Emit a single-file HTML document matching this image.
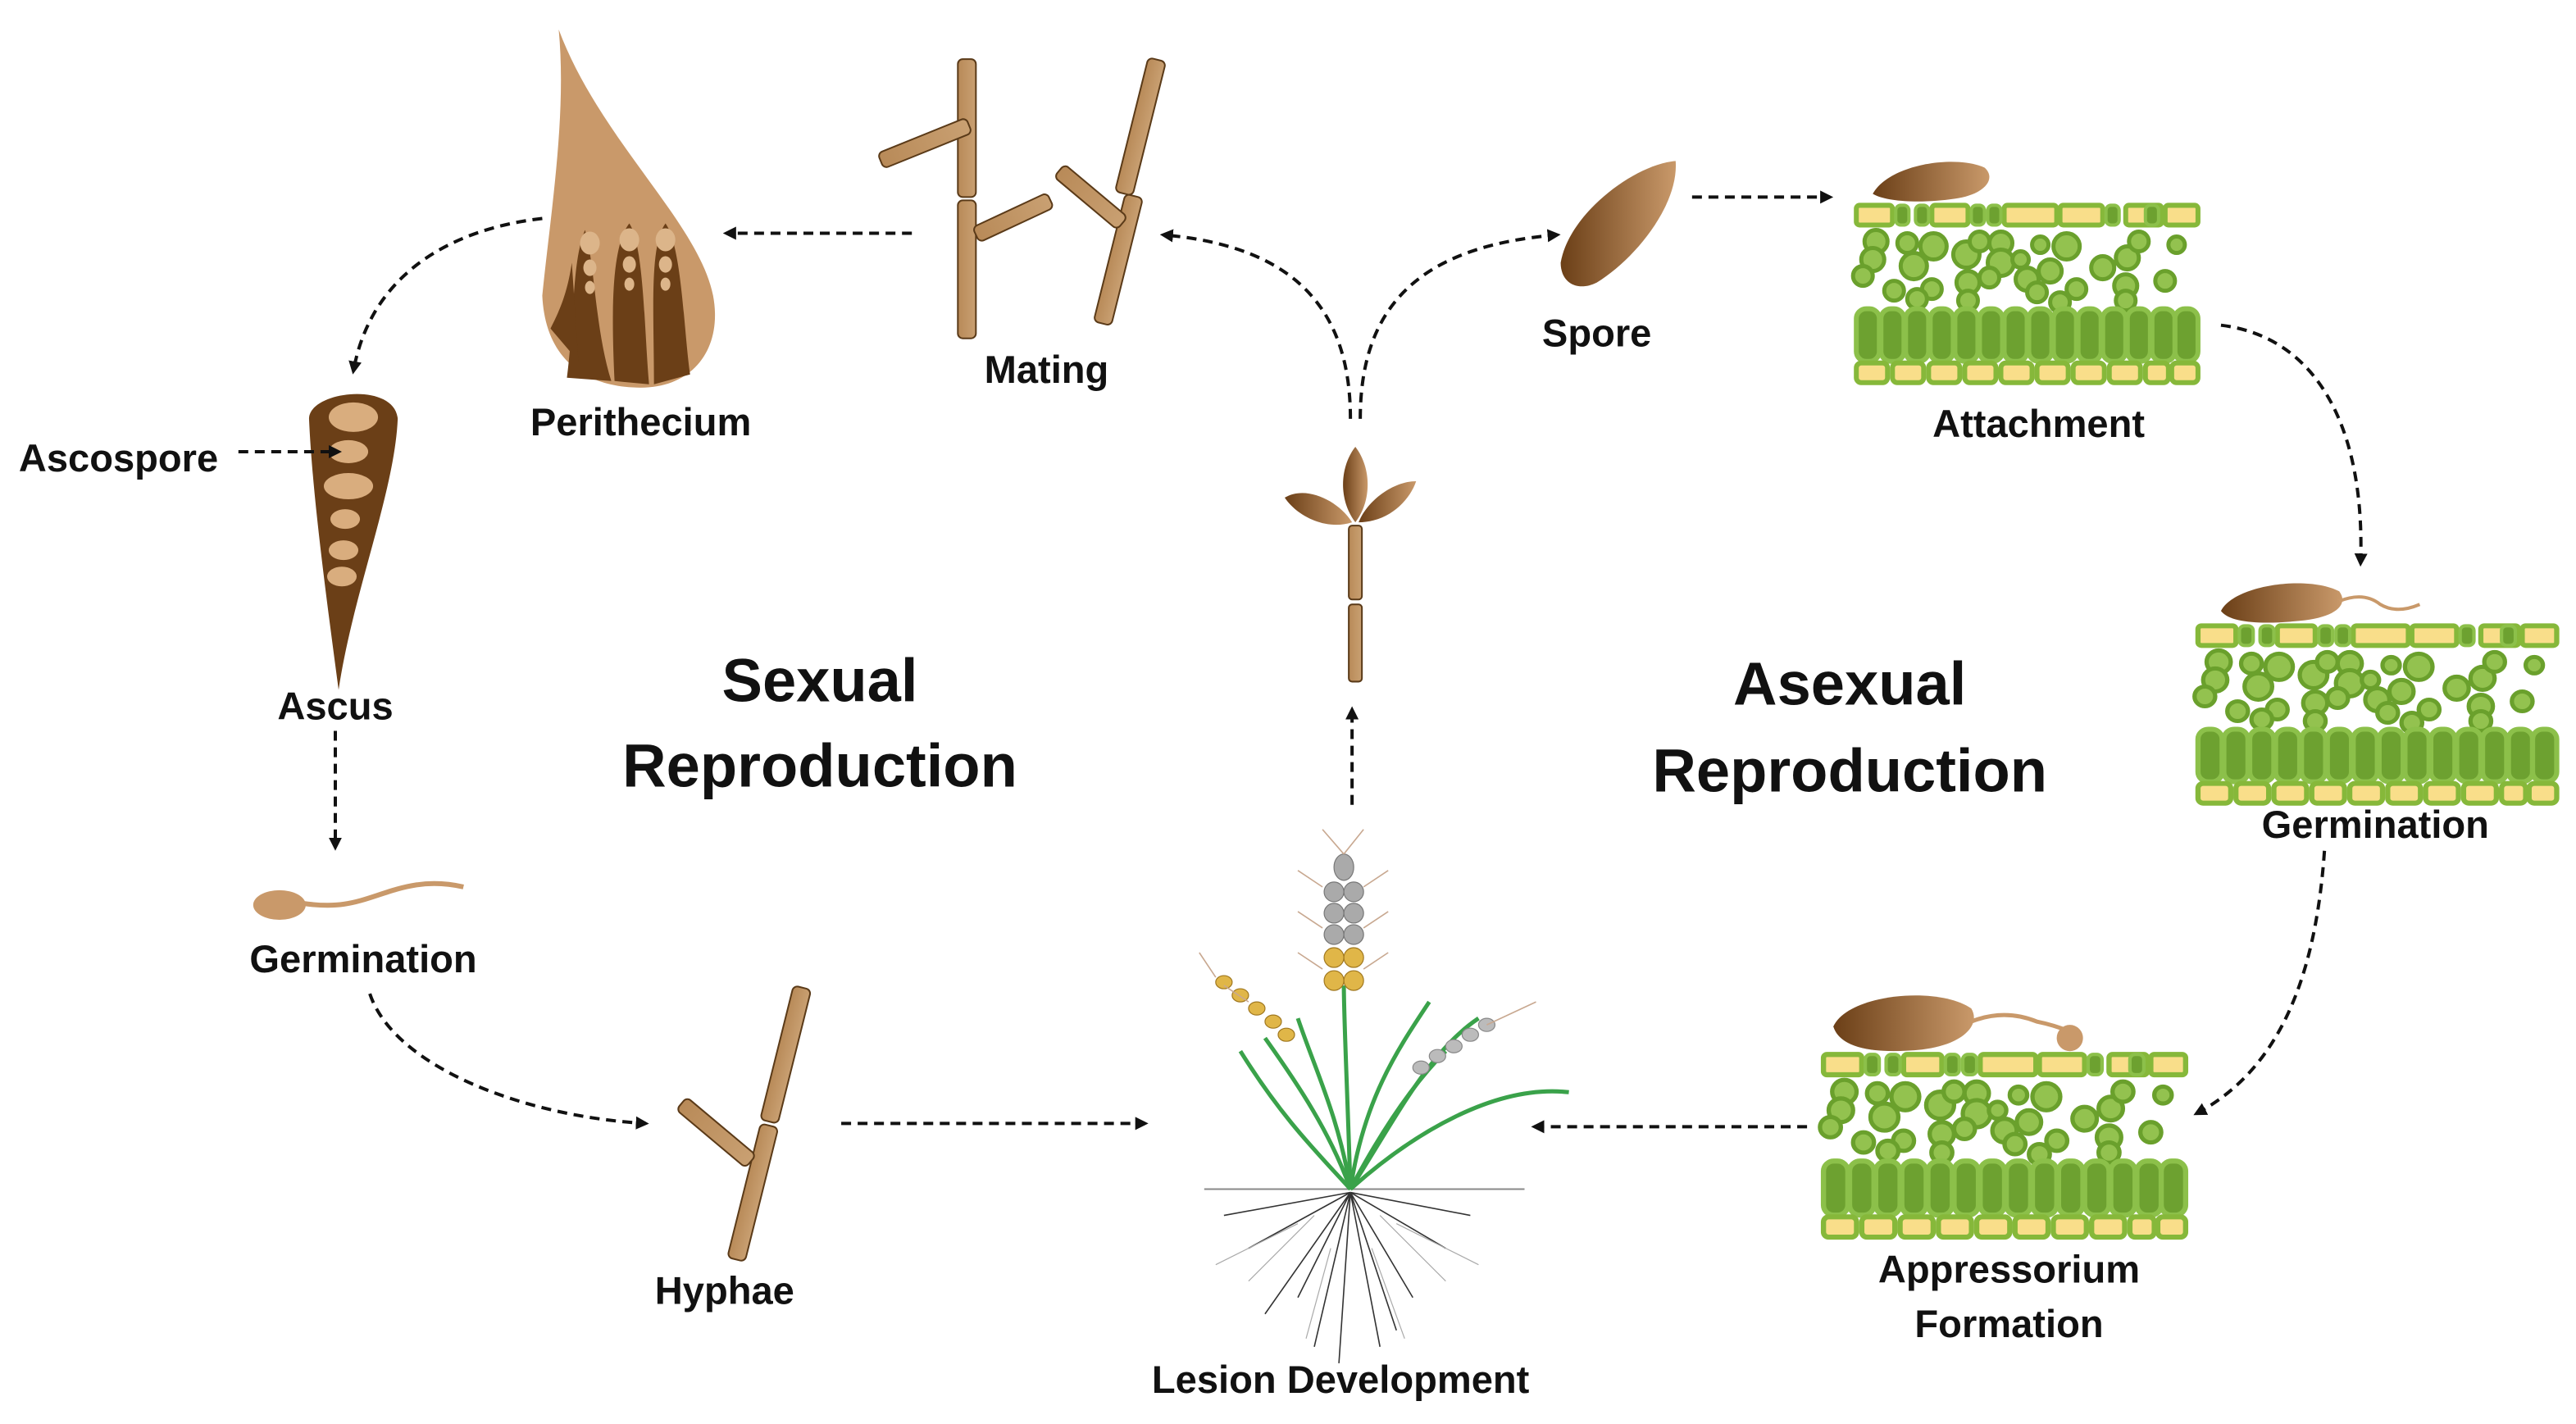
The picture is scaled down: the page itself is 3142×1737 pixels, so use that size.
<!DOCTYPE html>
<html><head><meta charset="utf-8"><style>
html,body{margin:0;padding:0;background:#fff}
svg{display:block}
text{font-family:"Liberation Sans",sans-serif;font-weight:bold;fill:#111}
</style></head><body>
<svg width="3142" height="1737" viewBox="0 0 1568 867" xmlns="http://www.w3.org/2000/svg">
<defs>
<linearGradient id="br" x1="0" x2="1" y1="0" y2="0"><stop offset="0" stop-color="#6b3f17"/><stop offset="1" stop-color="#c9996a"/></linearGradient>
<linearGradient id="rod" x1="0" x2="1"><stop offset="0" stop-color="#b88a58"/><stop offset="1" stop-color="#c9a072"/></linearGradient>
<marker id="ah" markerWidth="8" markerHeight="8" refX="6" refY="4" orient="auto" markerUnits="userSpaceOnUse"><path d="M0,0 L8,4 L0,8 Z" fill="#111"/></marker>
<g id="tissue">
 <g fill="#f9de8a" stroke="#86b83a" stroke-width="3">
  <rect x="0" y="0" width="22" height="12" rx="2"/><rect x="46" y="0" width="22" height="12" rx="2"/><rect x="90" y="0" width="32" height="12" rx="2"/><rect x="124" y="0" width="26" height="12" rx="2"/><rect x="164" y="0" width="22" height="12" rx="2"/><rect x="188" y="0" width="20" height="12" rx="2"/>
 </g>
 <g fill="#6da130" stroke="#8cc04a" stroke-width="2">
  <rect x="24" y="0" width="8" height="12" rx="3"/><rect x="36" y="0" width="8" height="12" rx="3"/><rect x="70" y="0" width="8" height="12" rx="3"/><rect x="80" y="0" width="8" height="12" rx="3"/><rect x="152" y="0" width="8" height="12" rx="3"/><rect x="176" y="0" width="8" height="12" rx="3"/>
 </g>
 <g fill="#93c24f" stroke="#6aa02c" stroke-width="2.5">
  <circle cx="12" cy="22" r="7"/><circle cx="10" cy="33" r="7"/><circle cx="4" cy="43" r="6"/><circle cx="35" cy="37" r="8"/><circle cx="31" cy="23" r="6"/><circle cx="47" cy="25" r="8"/><circle cx="23" cy="52" r="6"/><circle cx="46" cy="51" r="6"/><circle cx="37" cy="57" r="6"/>
  <circle cx="67" cy="30" r="8"/><circle cx="75" cy="22" r="6"/><circle cx="88" cy="23" r="7"/><circle cx="88" cy="35" r="8"/><circle cx="81" cy="44" r="6"/><circle cx="104" cy="45" r="7"/><circle cx="68" cy="47" r="7"/><circle cx="68" cy="58" r="6"/><circle cx="100" cy="33" r="5"/>
  <circle cx="112" cy="24" r="5"/><circle cx="128" cy="25" r="8"/><circle cx="118" cy="40" r="7"/><circle cx="110" cy="53" r="6"/><circle cx="134" cy="51" r="6"/><circle cx="124" cy="59" r="6"/><circle cx="150" cy="38" r="7"/>
  <circle cx="165" cy="32" r="7"/><circle cx="172" cy="22" r="6"/><circle cx="164" cy="49" r="7"/><circle cx="164" cy="58" r="6"/><circle cx="188" cy="46" r="6"/><circle cx="195" cy="24" r="5"/>
 </g>
 <g fill="#6da130" stroke="#8cc04a" stroke-width="3">
  <rect x="0" y="63" width="14" height="32" rx="6"/><rect x="15" y="63" width="14" height="32" rx="6"/><rect x="30" y="63" width="14" height="32" rx="6"/><rect x="45" y="63" width="14" height="32" rx="6"/><rect x="60" y="63" width="14" height="32" rx="6"/><rect x="75" y="63" width="14" height="32" rx="6"/><rect x="90" y="63" width="14" height="32" rx="6"/><rect x="105" y="63" width="14" height="32" rx="6"/><rect x="120" y="63" width="14" height="32" rx="6"/><rect x="135" y="63" width="14" height="32" rx="6"/><rect x="150" y="63" width="14" height="32" rx="6"/><rect x="165" y="63" width="14" height="32" rx="6"/><rect x="180" y="63" width="14" height="32" rx="6"/><rect x="194" y="63" width="14" height="32" rx="6"/>
 </g>
 <g fill="#f9de8a" stroke="#86b83a" stroke-width="3">
  <rect x="0" y="96" width="19" height="12" rx="3"/><rect x="22" y="96" width="19" height="12" rx="3"/><rect x="44" y="96" width="19" height="12" rx="3"/><rect x="66" y="96" width="19" height="12" rx="3"/><rect x="88" y="96" width="19" height="12" rx="3"/><rect x="110" y="96" width="19" height="12" rx="3"/><rect x="132" y="96" width="19" height="12" rx="3"/><rect x="154" y="96" width="19" height="12" rx="3"/><rect x="176" y="96" width="14" height="12" rx="3"/><rect x="192" y="96" width="16" height="12" rx="3"/>
 </g>
</g>
</defs>

<use href="#tissue" transform="translate(1130,125)"/>
<use href="#tissue" transform="translate(1338,381) scale(1.05,1)"/>
<use href="#tissue" transform="translate(1110,642) scale(1.06,1.03)"/>

<path d="M1140,118 C1150,100 1190,94 1208,102 C1215,108 1210,118 1190,121 C1170,124 1148,123 1140,118Z" fill="url(#br)"/>
<path d="M1352,372 C1360,356 1405,350 1424,360 C1430,368 1422,376 1400,378 C1380,380 1358,380 1352,372Z" fill="url(#br)"/>
<path d="M1424,366 q15,-6 25,2 q10,6 24,0" fill="none" stroke="#c9996a" stroke-width="2"/>
<path d="M1116,625 C1125,605 1180,600 1200,614 C1206,624 1195,636 1170,639 C1140,642 1120,638 1116,625Z" fill="url(#br)"/>
<path d="M1200,622 q20,-8 40,0 q10,2 20,6" fill="none" stroke="#c9996a" stroke-width="2.5"/>
<circle cx="1260" cy="632" r="8" fill="#c9996a"/>

<path d="M1020,98 C995,100 955,130 950,160 C950,172 960,178 972,172 C995,158 1022,125 1020,98Z" fill="url(#br)"/>

<path d="M340,18 C345,70 335,130 330,180 C332,222 360,236 390,236 C422,236 440,212 434,180 C425,135 365,85 340,18Z" fill="#c9996a"/>
<g fill="#6b3f17">
<path d="M345,230 C350,190 348,160 356,140 C362,160 362,200 372,232Z"/>
<path d="M374,232 C372,190 372,150 383,136 C392,150 392,200 395,234Z"/>
<path d="M398,234 C398,190 395,150 405,136 C415,150 416,200 420,228Z"/>
<path d="M335,200 C340,190 345,180 348,160 L352,220Z"/>
</g>
<g fill="#dcb58a"><ellipse cx="359" cy="148" rx="6" ry="7"/><ellipse cx="383" cy="146" rx="6" ry="7"/><ellipse cx="405" cy="146" rx="6" ry="7"/>
<ellipse cx="359" cy="163" rx="4" ry="5"/><ellipse cx="383" cy="161" rx="4" ry="5"/><ellipse cx="405" cy="161" rx="4" ry="5"/>
<ellipse cx="359" cy="175" rx="3" ry="4"/><ellipse cx="383" cy="173" rx="3" ry="4"/><ellipse cx="405" cy="173" rx="3" ry="4"/></g>

<path d="M188,255 C188,238 240,232 242,255 C240,300 215,360 206,420 C198,360 190,300 188,255Z" fill="#6b3f17"/>
<g fill="#d9ad7e"><ellipse cx="215" cy="254" rx="15" ry="9"/><ellipse cx="212" cy="275" rx="12" ry="7"/><ellipse cx="212" cy="296" rx="15" ry="8"/><ellipse cx="210" cy="316" rx="9" ry="6"/><ellipse cx="209" cy="335" rx="9" ry="6"/><ellipse cx="208" cy="351" rx="9" ry="6"/></g>

<g stroke="#5a3a18" stroke-width="1" fill="url(#rod)">
<rect x="583" y="36" width="11" height="84" rx="3"/><rect x="583" y="122" width="11" height="84" rx="3"/>
<rect x="536" y="93" width="58" height="10" rx="3" transform="rotate(-22 536 98)"/>
<rect x="594" y="138" width="50" height="10" rx="3" transform="rotate(-25 594 143)"/>
<rect x="699" y="35" width="11" height="84" rx="3" transform="rotate(14 699 35)"/>
<rect x="685" y="118" width="11" height="80" rx="3" transform="rotate(14 685 118)"/>
<rect x="648" y="100" width="50" height="10" rx="3" transform="rotate(40 648 100)"/>
<rect x="483" y="600" width="11" height="84" rx="3" transform="rotate(14 483 600)"/>
<rect x="463" y="684" width="11" height="84" rx="3" transform="rotate(14 463 684)"/>
<rect x="418" y="668" width="55" height="10" rx="3" transform="rotate(40 418 668)"/>
<rect x="821" y="320" width="8" height="45" rx="2"/><rect x="821" y="368" width="8" height="47" rx="2"/>
</g>
<path d="M825,272 C815,285 815,305 825,318 C835,305 835,285 825,272Z" fill="url(#br)"/>
<path d="M782,303 C795,295 815,305 823,318 C808,323 790,315 782,303Z" fill="url(#br)"/>
<path d="M862,293 C848,293 832,305 827,318 C845,318 858,305 862,293Z" fill="url(#br)"/>

<ellipse cx="170" cy="551" rx="16" ry="9" fill="#c9996a"/>
<path d="M184,550 C205,553 215,550 230,545 C245,540 260,535 282,540" fill="none" stroke="#c9996a" stroke-width="3"/>

<line x1="733" y1="724" x2="928" y2="724" stroke="#888" stroke-width="1"/>
<g stroke="#333" stroke-width="0.8" fill="none">
<path d="M822,726 L790,790 M822,726 L800,820 M822,726 L815,830 M822,726 L840,820 M822,726 L860,790 M822,726 L880,760 M822,726 L760,760 M822,726 L770,800 M822,726 L850,810 M822,726 L745,740 M822,726 L895,740"/>
</g>
<g stroke="#aaa" stroke-width="0.6" fill="none">
<path d="M800,740 L760,780 M840,740 L880,780 M810,760 L795,815 M835,760 L855,815 M790,745 L740,770 M850,745 L900,770"/>
</g>
<g stroke="#3aa24a" stroke-width="2.5" fill="none">
<path d="M822,724 C820,660 818,620 818,600"/>
<path d="M822,724 C810,690 790,660 770,632"/>
<path d="M822,724 C840,690 860,660 880,640"/>
<path d="M822,724 C800,700 780,680 755,640"/>
<path d="M822,724 C860,690 910,660 955,665"/>
<path d="M822,724 C850,680 870,640 900,620"/>
<path d="M822,724 C830,670 850,640 870,610"/>
<path d="M822,724 C815,680 800,650 790,620"/>
</g>
<g fill="#aaa" stroke="#777" stroke-width="0.6">
<ellipse cx="818" cy="528" rx="6" ry="8"/><ellipse cx="812" cy="543" rx="6" ry="6"/><ellipse cx="824" cy="543" rx="6" ry="6"/><ellipse cx="812" cy="556" rx="6" ry="6"/><ellipse cx="824" cy="556" rx="6" ry="6"/><ellipse cx="812" cy="569" rx="6" ry="6"/><ellipse cx="824" cy="569" rx="6" ry="6"/>
</g>
<g fill="#e0b648" stroke="#a07820" stroke-width="0.6">
<ellipse cx="812" cy="583" rx="6" ry="6"/><ellipse cx="824" cy="583" rx="6" ry="6"/><ellipse cx="812" cy="597" rx="6" ry="6"/><ellipse cx="824" cy="597" rx="6" ry="6"/>
<ellipse cx="745" cy="598" rx="5" ry="4"/><ellipse cx="755" cy="606" rx="5" ry="4"/><ellipse cx="765" cy="614" rx="5" ry="4"/><ellipse cx="775" cy="622" rx="5" ry="4"/><ellipse cx="783" cy="630" rx="5" ry="4"/>
</g>
<g fill="#bbb" stroke="#888" stroke-width="0.6">
<ellipse cx="865" cy="650" rx="5" ry="4"/><ellipse cx="875" cy="643" rx="5" ry="4"/><ellipse cx="885" cy="637" rx="5" ry="4"/><ellipse cx="895" cy="630" rx="5" ry="4"/><ellipse cx="905" cy="624" rx="5" ry="4"/>
</g>
<g stroke="#c8a890" stroke-width="0.8"><path d="M818,520 L805,505 M818,520 L830,505 M805,540 L790,530 M830,540 L845,530 M805,565 L790,555 M830,565 L845,555 M805,590 L790,580 M830,590 L845,580 M740,595 L730,580 M905,624 L935,610 M760,610 L745,600"/></g>

<g stroke="#111" stroke-width="2" fill="none" stroke-dasharray="6,4" marker-end="url(#ah)">
<path d="M330,133 C270,140 225,170 215,226"/>
<path d="M555,142 L442,142"/>
<path d="M822,255 C822,190 790,150 708,143"/>
<path d="M828,255 C828,190 860,150 948,143"/>
<path d="M1030,120 L1114,120"/>
<path d="M1352,198 C1410,205 1440,260 1437,343"/>
<path d="M1415,518 C1410,590 1390,650 1337,678"/>
<path d="M1100,686 L934,686"/>
<path d="M823,490 L823,432"/>
<path d="M204,445 L204,516"/>
<path d="M225,605 C240,650 320,680 393,684"/>
<path d="M512,684 L697,684"/>
<path d="M145,275 L206,275"/>
</g>

<g font-size="23.5" text-anchor="middle">
<text x="390" y="265">Perithecium</text>
<text x="637" y="233">Mating</text>
<text x="972" y="211">Spore</text>
<text x="1241" y="266">Attachment</text>
<text x="1446" y="510">Germination</text>
<text x="1223" y="781">Appressorium</text>
<text x="1223" y="814">Formation</text>
<text x="816" y="848">Lesion Development</text>
<text x="441" y="794">Hyphae</text>
<text x="221" y="592">Germination</text>
<text x="204" y="438">Ascus</text>
<text x="72" y="287">Ascospore</text>
</g>
<g font-size="37" text-anchor="middle">
<text x="499" y="427">Sexual</text>
<text x="499" y="479">Reproduction</text>
<text x="1126" y="429">Asexual</text>
<text x="1126" y="482">Reproduction</text>
</g>
</svg>
</body></html>
